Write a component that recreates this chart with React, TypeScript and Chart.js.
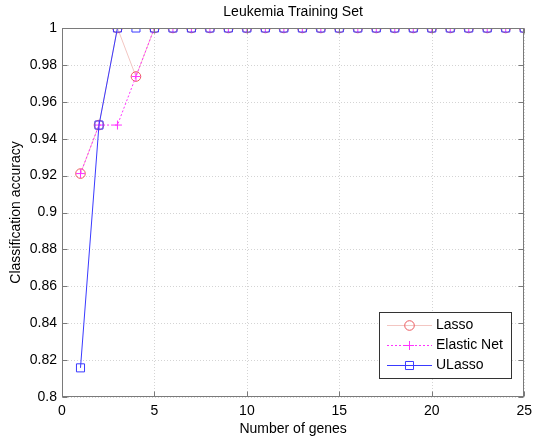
import React, { useEffect, useRef } from "react";
import { Chart, registerables } from "chart.js";

Chart.register(...registerables);

const genes = [1, 2, 3, 4, 5, 6, 7, 8, 9, 10, 11, 12, 13, 14, 15, 16, 17, 18, 19, 20, 21, 22, 23, 24, 25];
const lasso = [0.9211, 0.9474, 1, 0.9737, 1, 1, 1, 1, 1, 1, 1, 1, 1, 1, 1, 1, 1, 1, 1, 1, 1, 1, 1, 1, 1];
const elasticNet = [0.9211, 0.9474, 0.9474, 0.9737, 1, 1, 1, 1, 1, 1, 1, 1, 1, 1, 1, 1, 1, 1, 1, 1, 1, 1, 1, 1, 1];
const uLasso = [0.8158, 0.9474, 1, 1, 1, 1, 1, 1, 1, 1, 1, 1, 1, 1, 1, 1, 1, 1, 1, 1, 1, 1, 1, 1, 1];
const seriesNames = ["Lasso", "Elastic Net", "ULasso"];
const titleText = "Leukemia Training Set";
const xTitle = "Number of genes";
const yTitle = "Classification accuracy";

const FONT = "'Liberation Sans', Arial, sans-serif";
const FS = 14;

const styles = [
  { line: "#f3c6c2", marker: "#ec5a5f", dash: [] as number[], shape: "circle", r: 4.8 },
  { line: "#ff33ff", marker: "#ff33ff", dash: [2, 2], shape: "cross", r: 4.5 },
  { line: "#3a3aff", marker: "#3a3aff", dash: [] as number[], shape: "rect", r: 5.7 },
];

const frame = {
  id: "frame",
  beforeDatasetsDraw(chart: any) {
    const { ctx, chartArea: a, scales } = chart;
    ctx.save();
    ctx.strokeStyle = "#d4d4d4";
    ctx.lineWidth = 1;
    ctx.setLineDash([1, 2]);
    scales.x.ticks.forEach((t: any) => {
      const px = Math.round(scales.x.getPixelForValue(t.value)) + 0.5;
      ctx.beginPath();
      ctx.moveTo(px, a.top);
      ctx.lineTo(px, a.bottom);
      ctx.stroke();
    });
    scales.y.ticks.forEach((t: any) => {
      const py = Math.round(scales.y.getPixelForValue(t.value)) + 0.5;
      ctx.beginPath();
      ctx.moveTo(a.left, py);
      ctx.lineTo(a.right, py);
      ctx.stroke();
    });
    ctx.restore();
  },
  afterDatasetsDraw(chart: any) {
    const { ctx, chartArea: a, scales } = chart;
    ctx.save();
    ctx.strokeStyle = "#7a7a7a";
    ctx.lineWidth = 1;
    ctx.setLineDash([]);
    const L = Math.round(a.left) + 0.5, R = Math.round(a.right) - 0.5;
    const T = Math.round(a.top) + 0.5, B = Math.round(a.bottom) - 0.5;
    ctx.strokeRect(L, T, R - L, B - T);
    const tl = 5;
    scales.x.ticks.forEach((t: any) => {
      const px = Math.round(scales.x.getPixelForValue(t.value)) + 0.5;
      ctx.beginPath();
      ctx.moveTo(px, B); ctx.lineTo(px, B - tl);
      ctx.moveTo(px, T); ctx.lineTo(px, T + tl);
      ctx.stroke();
    });
    scales.y.ticks.forEach((t: any) => {
      const py = Math.round(scales.y.getPixelForValue(t.value)) + 0.5;
      ctx.beginPath();
      ctx.moveTo(L, py); ctx.lineTo(L + tl, py);
      ctx.moveTo(R, py); ctx.lineTo(R - tl, py);
      ctx.stroke();
    });
    // title
    ctx.fillStyle = "#000";
    ctx.font = `${FS}px ${FONT}`;
    ctx.textAlign = "center";
    ctx.textBaseline = "middle";
    ctx.fillText(titleText, (a.left + a.right) / 2, 12);
    // legend
    const bx = 379.5, by = 312.5, bw = 132, bh = 66;
    ctx.fillStyle = "#fff";
    ctx.fillRect(bx, by, bw, bh);
    ctx.strokeStyle = "#333";
    ctx.strokeRect(bx, by, bw, bh);
    seriesNames.forEach((name, idx) => {
      const st = styles[idx];
      const y = 325 + idx * 20 + 0.5;
      ctx.save();
      ctx.strokeStyle = st.line;
      ctx.lineWidth = 1;
      ctx.setLineDash(st.dash);
      ctx.beginPath();
      ctx.moveTo(387, y);
      ctx.lineTo(432, y);
      ctx.stroke();
      ctx.setLineDash([]);
      ctx.strokeStyle = st.marker;
      const mx = 409.5;
      const r = st.r;
      ctx.beginPath();
      if (st.shape === "circle") {
        ctx.arc(mx, y, r, 0, Math.PI * 2);
      } else if (st.shape === "cross") {
        ctx.moveTo(mx - r, y); ctx.lineTo(mx + r, y);
        ctx.moveTo(mx, y - r); ctx.lineTo(mx, y + r);
      } else {
        const s = Math.SQRT1_2 * r;
        ctx.rect(mx - s, y - s, 2 * s, 2 * s);
      }
      ctx.stroke();
      ctx.restore();
      ctx.fillStyle = "#000";
      ctx.font = `${FS}px ${FONT}`;
      ctx.textAlign = "left";
      ctx.textBaseline = "middle";
      ctx.fillText(name, 436, y);
    });
    ctx.restore();
  },
};

export default function App() {
  const ref = useRef<HTMLCanvasElement>(null);
  useEffect(() => {
    if (!ref.current) return;
    const mk = (arr: number[]) => genes.map((g, i) => ({ x: g, y: arr[i] }));
    const ds = (i: number, arr: number[], order: number) => ({
      label: seriesNames[i],
      data: mk(arr),
      borderColor: styles[i].line,
      borderDash: styles[i].dash,
      borderWidth: 1,
      pointStyle: styles[i].shape,
      pointRadius: styles[i].r,
      pointBorderColor: styles[i].marker,
      pointBackgroundColor: "rgba(0,0,0,0)",
      pointBorderWidth: 1,
      fill: false,
      order,
    });
    const chart = new Chart(ref.current, {
      type: "line",
      data: {
        datasets: [ds(2, uLasso, 0), ds(1, elasticNet, 1), ds(0, lasso, 2)] as any,
      },
      options: {
        animation: false,
        responsive: false,
        maintainAspectRatio: false,
        layout: { padding: { left: 0, right: 3, top: 28, bottom: 0 } },
        plugins: { legend: { display: false }, tooltip: { enabled: false }, title: { display: false } },
        elements: { line: { tension: 0 } },
        scales: {
          x: {
            type: "linear",
            min: 0,
            max: 25,
            grid: { display: false, drawTicks: false },
            border: { display: false },
            ticks: { stepSize: 5, color: "#000", font: { family: FONT, size: FS }, padding: 6, maxRotation: 0 },
            title: { display: true, text: xTitle, color: "#000", font: { family: FONT, size: FS }, padding: { top: 0, bottom: 2 } },
            afterFit(scale: any) { scale.height = 43; },
          },
          y: {
            type: "linear",
            min: 0.8,
            max: 1,
            grid: { display: false, drawTicks: false },
            border: { display: false },
            ticks: {
              stepSize: 0.02,
              color: "#000",
              font: { family: FONT, size: FS },
              padding: 5,
              callback: (v: any) => String(Number(Number(v).toFixed(2))),
            },
            title: { display: true, text: yTitle, color: "#000", font: { family: FONT, size: FS }, padding: { top: 8, bottom: 0 } },
            afterFit(scale: any) { scale.width = 62; },
          },
        },
      } as any,
      plugins: [frame],
    });
    return () => chart.destroy();
  }, []);
  return (
    <div style={{ position: "fixed", left: 0, top: 0, width: 538, height: 440, background: "#fff" }}>
      <canvas ref={ref} width={538} height={440} style={{ width: 538, height: 440 }} />
    </div>
  );
}
